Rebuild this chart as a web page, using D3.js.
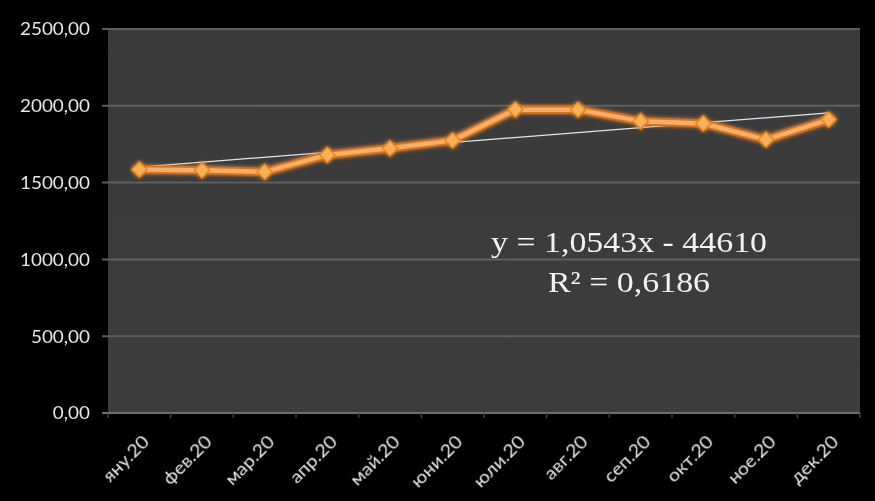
<!DOCTYPE html>
<html>
<head>
<meta charset="utf-8">
<script src="https://cdn.jsdelivr.net/npm/d3@7"></script>
<style>
  html, body { margin: 0; padding: 0; background: #000; }
  svg { display: block; }
</style>
</head>
<body>
<svg id="chart" width="875" height="501"></svg>
<script>
// Monthly values for 2020
const months = ["яну.20", "фев.20", "мар.20", "апр.20", "май.20", "юни.20",
                "юли.20", "авг.20", "сеп.20", "окт.20", "ное.20", "дек.20"];
const monthIndex = [0, 1, 2, 3, 4, 5, 6, 7, 8, 9, 10, 11];
const values = [1585, 1580, 1570, 1680, 1723, 1775, 1975, 1975, 1900, 1885, 1780, 1910];
const yTicks = [0, 500, 1000, 1500, 2000, 2500];

// Linear trend fitted on the spreadsheet date serials
const trendSlope = 1.0543;
const trendIntercept = -44610;
const trendLabel = ["y = 1,0543x - 44610", "R² = 0,6186"];

const W = 875, H = 501;
const m = { left: 108, right: 15, top: 29, bottom: 88 };
const svg = d3.select("#chart");

const x = d3.scaleBand().domain(months).range([m.left, W - m.right]);
const y = d3.scaleLinear().domain([0, 2500]).range([H - m.bottom, m.top]);
const cx = d => x(d) + x.bandwidth() / 2;

const fmt = v => d3.format(".2f")(v).replace(".", ",");
const serial = i => (Date.UTC(2020, i, 1) - Date.UTC(1899, 11, 30)) / 86400000;

const defs = svg.append("defs");
const bg = defs.append("linearGradient").attr("id", "plotBg")
  .attr("x1", 0).attr("y1", 0).attr("x2", 0).attr("y2", 1);
bg.append("stop").attr("offset", "0%").attr("stop-color", "#3a3a3a");
bg.append("stop").attr("offset", "100%").attr("stop-color", "#3d3d3d");

const glow = defs.append("filter").attr("id", "glow")
  .attr("x", "-20%").attr("y", "-50%").attr("width", "140%").attr("height", "200%");
glow.append("feGaussianBlur").attr("in", "SourceGraphic").attr("stdDeviation", 2.2).attr("result", "b");
const mg = glow.append("feMerge");
mg.append("feMergeNode").attr("in", "b");
mg.append("feMergeNode").attr("in", "SourceGraphic");

const soft = defs.append("filter").attr("id", "soft");
soft.append("feGaussianBlur").attr("stdDeviation", 0.6);

// Plot area
svg.append("rect")
  .attr("x", m.left).attr("y", m.top)
  .attr("width", W - m.left - m.right).attr("height", H - m.top - m.bottom)
  .attr("fill", "url(#plotBg)");

// Gridlines
svg.append("g").attr("filter", "url(#soft)")
  .selectAll("line").data(yTicks).join("line")
  .attr("x1", m.left - 6).attr("x2", W - m.right)
  .attr("y1", d => y(d)).attr("y2", d => y(d))
  .attr("stroke", d => d === 0 ? "#6e6e6e" : "#5f5f5f")
  .attr("stroke-width", 2);

svg.append("line")
  .attr("x1", m.left).attr("x2", m.left)
  .attr("y1", m.top).attr("y2", H - m.bottom)
  .attr("stroke", "#626262").attr("stroke-width", 2).attr("filter", "url(#soft)");

// Category tick marks below the axis
svg.append("g").selectAll("line").data(d3.range(months.length + 1)).join("line")
  .attr("x1", i => m.left + i * x.step()).attr("x2", i => m.left + i * x.step())
  .attr("y1", y(0)).attr("y2", y(0) + 5)
  .attr("stroke", "#3e3e3e").attr("stroke-width", 1.5);

// Y axis labels
svg.append("g").selectAll("text").data(yTicks).join("text")
  .attr("transform", d => `translate(90,${y(d)}) scale(1.05,1)`)
  .attr("dy", "0.35em")
  .attr("text-anchor", "end")
  .attr("fill", "#e6e6e6")
  .attr("font-family", "Lato, 'Open Sans', sans-serif")
  .attr("font-size", 18)
  .attr("filter", "url(#soft)")
  .text(fmt);

// X axis labels, rotated
svg.append("g").selectAll("text").data(months).join("text")
  .attr("transform", d => `translate(${cx(d) + 11},${y(0) + 30}) rotate(-45) scale(1.08,1)`)
  .attr("text-anchor", "end")
  .attr("fill", "#e6e6e6")
  .attr("font-family", "Lato, 'Open Sans', sans-serif")
  .attr("font-size", 18)
  .attr("filter", "url(#soft)")
  .text(d => d);

// Trend line
const first = monthIndex[0], last = monthIndex[monthIndex.length - 1];
const trendAt = i => trendSlope * serial(i) + trendIntercept;
svg.append("line")
  .attr("x1", cx(months[first])).attr("y1", y(trendAt(first)))
  .attr("x2", cx(months[last])).attr("y2", y(trendAt(last)))
  .attr("stroke", "#dfe6ee").attr("stroke-width", 1.3);

// Series line
const line = d3.line().x(i => cx(months[i])).y(i => y(values[i]));
const series = svg.append("g").attr("filter", "url(#glow)");
series.append("path").attr("d", line(monthIndex))
  .attr("fill", "none").attr("stroke", "#d8721c").attr("stroke-width", 8)
  .attr("stroke-linejoin", "round");
series.append("path").attr("d", line(monthIndex))
  .attr("fill", "none").attr("stroke", "#f6ae6a").attr("stroke-width", 4.5)
  .attr("stroke-linejoin", "round");

// Diamond markers
const diamond = d3.symbol().type(d3.symbolDiamond2).size(150);
series.selectAll("path.mk").data(monthIndex).join("path")
  .attr("class", "mk")
  .attr("d", diamond)
  .attr("transform", i => `translate(${cx(months[i])},${y(values[i])})`)
  .attr("fill", "#f8b15a").attr("stroke", "#e8861e").attr("stroke-width", 1.5);

// Trend equation
const eq = svg.append("g")
  .attr("fill", "#f2f2f2")
  .attr("font-family", "'Liberation Serif', 'DejaVu Serif', serif")
  .attr("font-size", 30)
  .attr("text-anchor", "middle")
  .attr("filter", "url(#soft)");
eq.selectAll("text").data(trendLabel).join("text")
  .attr("transform", (d, i) => `translate(629,${252 + i * 40}) scale(1.13,1)`)
  .text(d => d);
</script>
</body>
</html>
